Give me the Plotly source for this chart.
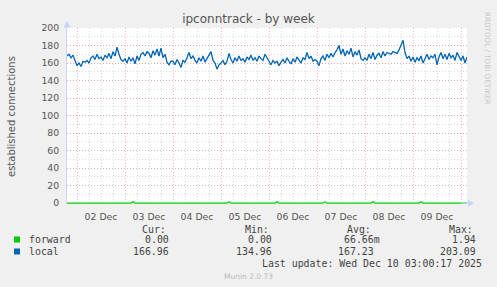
import plotly.graph_objects as go
import pandas as pd

# ---------------- data ----------------
start_time = "2025-12-01 19:00"
local_values = [
    # Dec 1 19:00-23:00
    168, 170, 166, 169, 163,
    # Dec 2
    157, 160, 156, 162, 161, 163, 160, 166, 168, 164, 170, 165, 167, 163, 169, 166, 171, 165, 173, 168, 178, 170, 164, 162,
    # Dec 3
    165, 160, 167, 162, 166, 159, 168, 163, 170, 172, 168, 173, 171, 166, 174, 169, 176, 168, 177, 166, 170, 161, 158, 162,
    # Dec 4
    162, 158, 164, 160, 155, 163, 161, 166, 172, 165, 168, 163, 160, 166, 162, 168, 161, 165, 170, 173, 163, 160, 153, 158,
    # Dec 5
    160, 163, 158, 162, 171, 164, 160, 166, 162, 168, 163, 165, 161, 167, 164, 169, 163, 166, 162, 168, 165, 163, 170, 166,
    # Dec 6
    161, 158, 163, 160, 162, 157, 161, 164, 160, 166, 162, 159, 165, 161, 167, 163, 160, 166, 164, 172, 165, 168, 162, 164,
    # Dec 7
    162, 157, 165, 168, 163, 170, 166, 171, 167, 172, 175, 180, 170, 176, 168, 174, 170, 177, 167, 173, 169, 175, 165, 163,
    # Dec 8
    166, 163, 170, 165, 172, 164, 169, 171, 166, 173, 168, 172, 171, 170, 173, 172, 171, 175, 180, 186, 172, 165, 168, 162,
    # Dec 9
    167, 161, 166, 163, 168, 160, 165, 170, 164, 168, 166, 170, 158, 167, 172, 165, 170, 164, 171, 166, 169, 163, 172, 167,
    # Dec 10 00:00-03:00
    163, 168, 160, 167,
]
forward_spike_times = ["2025-12-03 04:00", "2025-12-05 04:00", "2025-12-06 04:00",
                       "2025-12-07 04:00", "2025-12-08 04:00", "2025-12-09 04:00"]
forward_spike_values = [1.94, 1.6, 1.8, 1.7, 1.9, 1.5]

series_names = ["forward", "local"]
series_colors = ["#00CC00", "#0066B3"]
stat_headers = ["Cur:", "Min:", "Avg:", "Max:"]
stats_forward = ["0.00", "0.00", "66.66m", "1.94"]
stats_local = ["166.96", "134.96", "167.23", "203.09"]
y_ticks = [0, 20, 40, 60, 80, 100, 120, 140, 160, 180, 200]

title_text = "ipconntrack - by week"
y_title = "established connections"
last_update = "Last update: Wed Dec 10 03:00:17 2025"
munin_version = "Munin 2.0.73"
rrd_credit = "RRDTOOL / TOBI OETIKER"

# ---------------- build ----------------
times = pd.date_range(start_time, periods=len(local_values), freq="h")
forward_map = dict(zip(pd.to_datetime(forward_spike_times), forward_spike_values))
forward_values = [forward_map.get(t, 0.0) for t in times]

W, H = 497, 287
L, R, T, B = 67, 467, 28, 204


def px(x):
    return (x - L) / (R - L)


def py(y):
    return (B - y) / (B - T)


fig = go.Figure()
fig.add_trace(go.Scatter(x=times, y=forward_values, mode="lines",
                         line=dict(color=series_colors[0], width=1.2), hoverinfo="skip"))
fig.add_trace(go.Scatter(x=times, y=local_values, mode="lines",
                         line=dict(color=series_colors[1], width=1.3), hoverinfo="skip"))

major_grid = "rgba(240,120,120,0.55)"
minor_grid = "rgba(190,190,190,0.55)"
dash = "1px,2px"

fig.update_layout(
    width=W, height=H,
    margin=dict(l=L, r=W - R, t=T, b=H - B, pad=0),
    paper_bgcolor="#F0F0F0", plot_bgcolor="#FFFFFF",
    showlegend=False,
    font=dict(family="DejaVu Sans", size=9.3, color="#555555"),
    title=dict(text=title_text, x=0.5, xref="container", xanchor="center",
               y=1 - 19 / H, yref="container", yanchor="middle",
               font=dict(family="DejaVu Sans", size=12, color="#555555")),
)
fig.update_xaxes(
    type="date",
    range=[times[0], times[-1]],
    dtick=86400000, tick0="2025-12-02",
    ticklabelmode="period", tickformat="%d %b",
    ticks="outside", ticklen=4, tickcolor="rgba(0,0,0,0)",
    showgrid=True, gridcolor=major_grid, griddash=dash, gridwidth=1,
    minor=dict(dtick=21600000, tick0="2025-12-02", showgrid=True,
               gridcolor=minor_grid, griddash=dash, gridwidth=1),
    showline=False, zeroline=False,
    tickfont=dict(family="DejaVu Sans", size=9.3, color="#555555"),
)
fig.update_yaxes(
    range=[-1, 200],
    tickvals=y_ticks,
    ticks="outside", ticklen=5, tickcolor="rgba(0,0,0,0)",
    showgrid=True, gridcolor=major_grid, griddash=dash, gridwidth=1,
    minor=dict(dtick=10, tick0=0, showgrid=True,
               gridcolor=minor_grid, griddash=dash, gridwidth=1),
    showline=True, linecolor="#CCD4FF", linewidth=1,
    zeroline=False,
    tickfont=dict(family="DejaVu Sans", size=9.3, color="#555555"),
)

arrow_color = "#C8D2FF"
shapes = [
    dict(type="path", xref="paper", yref="paper", fillcolor=arrow_color, line=dict(width=0),
         path=f"M {px(67)},{py(21)} L {px(63.5)},{py(27.5)} L {px(70.5)},{py(27.5)} Z"),
    dict(type="path", xref="paper", yref="paper", fillcolor=arrow_color, line=dict(width=0),
         path=f"M {px(468)},{py(199.8)} L {px(474)},{py(203.3)} L {px(468)},{py(206.8)} Z"),
    dict(type="line", xref="paper", yref="paper", x0=px(461), x1=px(468), y0=py(203.3), y1=py(203.3),
         line=dict(color="#CCD4FF", width=1)),
]
# legend squares
for color, yc in zip(series_colors, [239.5, 251.5]):
    shapes.append(dict(type="rect", xref="paper", yref="paper",
                       x0=px(14), x1=px(20), y0=py(yc - 3), y1=py(yc + 3),
                       fillcolor=color, line=dict(width=0)))
fig.update_layout(shapes=shapes)

mono = dict(family="DejaVu Sans Mono", size=9.9, color="#444444")
ann = []


def add_text(text, x, y, anchor="left", font=mono, angle=0):
    ann.append(dict(text=text, x=px(x), y=py(y), xref="paper", yref="paper",
                    xanchor=anchor, yanchor="middle", showarrow=False,
                    font=font, textangle=angle))


header_x = [140, 243, 345, 447]
for h, x in zip(stat_headers, header_x):
    add_text(h, x, 229.5)

add_text(series_names[0], 26.5, 239.5)
add_text(series_names[1], 26.5, 251.5)
fwd_right = [170, 273, 381, 477]
loc_right = [170, 273, 375, 477]
for s, x in zip(stats_forward, fwd_right):
    add_text(s, x + 1, 239.5, anchor="right")
for s, x in zip(stats_local, loc_right):
    add_text(s, x + 1, 251.5, anchor="right")
add_text(last_update, 483.5, 263.5, anchor="right")
add_text(munin_version, 248, 276, anchor="center",
         font=dict(family="DejaVu Sans", size=7.5, color="#BBBBBB"))
add_text(rrd_credit, 487, 58, anchor="center",
         font=dict(family="DejaVu Sans", size=7.2, color="#C8C8C8"), angle=90)
add_text(y_title, 11, 116, anchor="center",
         font=dict(family="DejaVu Sans", size=10, color="#555555"), angle=-90)
fig.update_layout(annotations=ann)

fig.write_html("out.html")
